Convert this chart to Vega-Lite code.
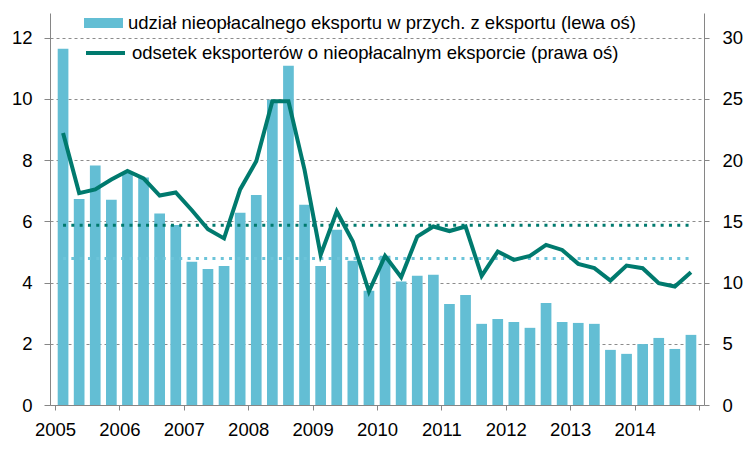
{
  "$schema": "https://vega.github.io/schema/vega-lite/v6.json",
  "width": 654,
  "height": 392,
  "autosize": {"type": "none"},
  "padding": {"left": 50, "top": 13, "right": 44, "bottom": 49},
  "background": "#ffffff",
  "config": {
    "font": "Liberation Sans",
    "view": {"stroke": null},
    "axis": {
      "labelFont": "Liberation Sans",
      "labelFontSize": 18.5,
      "labelColor": "#000000",
      "domainColor": "#868686",
      "tickColor": "#868686",
      "domainWidth": 1,
      "tickWidth": 1,
      "title": null
    },
    "legend": {
      "labelFont": "Liberation Sans",
      "labelFontSize": 18.5,
      "labelColor": "#000000",
      "labelLimit": 1000,
      "padding": 0,
      "title": null
    }
  },
  "data": {
    "values": [
      {"t": 2005.125, "share": 11.63, "pct": 22.2},
      {"t": 2005.375, "share": 6.73, "pct": 17.3},
      {"t": 2005.625, "share": 7.82, "pct": 17.6},
      {"t": 2005.875, "share": 6.70, "pct": 18.4},
      {"t": 2006.125, "share": 7.60, "pct": 19.1},
      {"t": 2006.375, "share": 7.43, "pct": 18.5},
      {"t": 2006.625, "share": 6.25, "pct": 17.1},
      {"t": 2006.875, "share": 5.88, "pct": 17.35},
      {"t": 2007.125, "share": 4.68, "pct": 15.9},
      {"t": 2007.375, "share": 4.44, "pct": 14.35},
      {"t": 2007.625, "share": 4.54, "pct": 13.6},
      {"t": 2007.875, "share": 6.28, "pct": 17.6},
      {"t": 2008.125, "share": 6.86, "pct": 19.9},
      {"t": 2008.375, "share": 9.97, "pct": 24.8},
      {"t": 2008.625, "share": 11.08, "pct": 24.8},
      {"t": 2008.875, "share": 6.54, "pct": 19.2},
      {"t": 2009.125, "share": 4.54, "pct": 12.25},
      {"t": 2009.375, "share": 5.72, "pct": 15.8},
      {"t": 2009.625, "share": 4.71, "pct": 13.35},
      {"t": 2009.875, "share": 3.73, "pct": 9.26},
      {"t": 2010.125, "share": 4.87, "pct": 12.17},
      {"t": 2010.375, "share": 4.03, "pct": 10.43},
      {"t": 2010.625, "share": 4.22, "pct": 13.75},
      {"t": 2010.875, "share": 4.25, "pct": 14.57},
      {"t": 2011.125, "share": 3.30, "pct": 14.2},
      {"t": 2011.375, "share": 3.59, "pct": 14.57},
      {"t": 2011.625, "share": 2.65, "pct": 10.54},
      {"t": 2011.875, "share": 2.81, "pct": 12.53},
      {"t": 2012.125, "share": 2.71, "pct": 11.85},
      {"t": 2012.375, "share": 2.52, "pct": 12.17},
      {"t": 2012.625, "share": 3.33, "pct": 13.07},
      {"t": 2012.875, "share": 2.71, "pct": 12.66},
      {"t": 2013.125, "share": 2.68, "pct": 11.52},
      {"t": 2013.375, "share": 2.65, "pct": 11.17},
      {"t": 2013.625, "share": 1.80, "pct": 10.16},
      {"t": 2013.875, "share": 1.67, "pct": 11.38},
      {"t": 2014.125, "share": 1.99, "pct": 11.17},
      {"t": 2014.375, "share": 2.19, "pct": 9.94},
      {"t": 2014.625, "share": 1.83, "pct": 9.67},
      {"t": 2014.875, "share": 2.29, "pct": 10.84}
    ]
  },
  "encoding": {
    "x": {
      "field": "t",
      "type": "quantitative",
      "scale": {"domain": [2005, 2015], "nice": false, "zero": false},
      "axis": {
        "values": [2005, 2006, 2007, 2008, 2009, 2010, 2011, 2012, 2013, 2014, 2015],
        "format": "d",
        "labelExpr": "datum.value >= 2015 ? '' : datum.label",
        "grid": false,
        "tickSize": 5,
        "labelPadding": 10,
        "labelFlush": false,
        "labelOverlap": false
      }
    }
  },
  "layer": [
    {
      "layer": [
        {
          "mark": {"type": "bar", "size": 10.7},
          "encoding": {
            "y": {
              "field": "share",
              "type": "quantitative",
              "scale": {"domain": [0, 12.8], "nice": false},
              "axis": {
                "orient": "left",
                "values": [0, 2, 4, 6, 8, 10, 12],
                "grid": true,
                "gridColor": "#8C8C8C",
                "gridDash": [3, 3],
                "gridWidth": 1,
                "tickSize": 6,
                "labelPadding": 12
              }
            },
            "fill": {
              "datum": "udział nieopłacalnego eksportu w przych. z eksportu (lewa oś)",
              "type": "nominal",
              "scale": {"range": ["#63BED4"]},
              "legend": {
                "orient": "none",
                "legendX": 34,
                "legendY": -9.5,
                "symbolType": "M-1,-0.26L1,-0.26L1,0.26L-1,0.26Z",
                "symbolSize": 1521,
                "symbolStrokeWidth": 0,
                "symbolOpacity": 1,
                "labelOffset": 5
              }
            }
          }
        },
        {
          "transform": [{"joinaggregate": [{"op": "mean", "field": "share", "as": "shareMean"}]}],
          "mark": {"type": "line", "color": "#6CC4D9", "strokeWidth": 3, "strokeDash": [3, 5.3]},
          "encoding": {
            "y": {
              "field": "shareMean",
              "type": "quantitative",
              "axis": {
                "orient": "left",
                "values": [0, 2, 4, 6, 8, 10, 12],
                "grid": true,
                "gridColor": "#8C8C8C",
                "gridDash": [3, 3],
                "gridWidth": 1,
                "tickSize": 6,
                "labelPadding": 12
              }
            }
          }
        }
      ]
    },
    {
      "layer": [
        {
          "transform": [{"joinaggregate": [{"op": "mean", "field": "pct", "as": "pctMean"}]}],
          "mark": {"type": "line", "color": "#007A6E", "strokeWidth": 3, "strokeDash": [3, 5.3]},
          "encoding": {
            "y": {
              "field": "pctMean",
              "type": "quantitative",
              "scale": {"domain": [0, 32], "nice": false},
              "axis": {
                "orient": "right",
                "values": [0, 5, 10, 15, 20, 25, 30],
                "grid": false,
                "tickSize": 5,
                "labelPadding": 13
              }
            }
          }
        },
        {
          "mark": {"type": "line", "strokeWidth": 4, "strokeJoin": "miter"},
          "encoding": {
            "y": {
              "field": "pct",
              "type": "quantitative",
              "axis": {
                "orient": "right",
                "values": [0, 5, 10, 15, 20, 25, 30],
                "grid": false,
                "tickSize": 5,
                "labelPadding": 13
              }
            },
            "stroke": {
              "datum": "odsetek eksporterów o nieopłacalnym eksporcie (prawa oś)",
              "type": "nominal",
              "scale": {"range": ["#007A6E"]},
              "legend": {
                "orient": "none",
                "legendX": 34,
                "legendY": 18.5,
                "symbolType": "stroke",
                "symbolSize": 1521,
                "symbolStrokeWidth": 4,
                "symbolOpacity": 1,
                "labelOffset": 5
              }
            }
          }
        }
      ]
    }
  ],
  "resolve": {"scale": {"y": "independent"}}
}
